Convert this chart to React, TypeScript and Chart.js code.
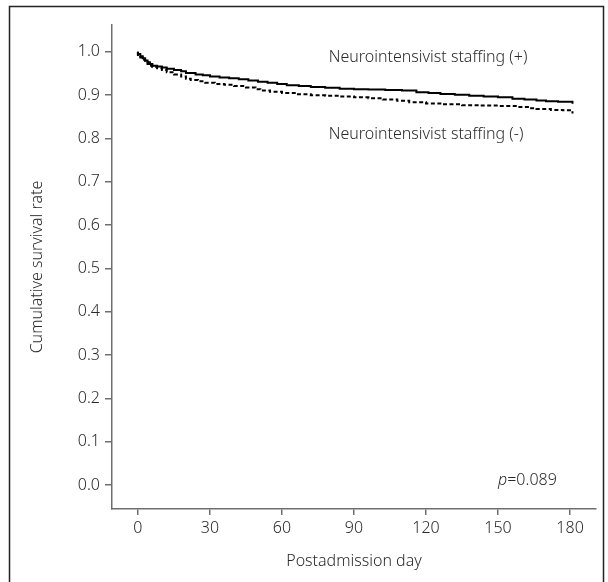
import React, { useEffect, useRef } from "react";
import { Chart, registerables } from "chart.js";

Chart.register(...registerables);

// Kaplan–Meier estimates
const plusDays = [0, 1, 2, 3, 4, 5, 6, 8, 10, 12, 15, 18, 20, 24, 27, 30, 34, 38, 42, 46, 50, 54, 58, 62, 67, 72, 78, 84, 90, 96, 103, 110, 116, 121, 126, 132, 138, 144, 150, 156, 161, 166, 170, 175, 181, 181];
const plusSurv = [1.0, 0.995, 0.99, 0.985, 0.98, 0.976, 0.972, 0.968, 0.966, 0.964, 0.961, 0.958, 0.955, 0.951, 0.948, 0.946, 0.943, 0.941, 0.939, 0.937, 0.934, 0.931, 0.929, 0.926, 0.923, 0.921, 0.919, 0.917, 0.915, 0.914, 0.913, 0.912, 0.911, 0.907, 0.905, 0.903, 0.901, 0.899, 0.897, 0.895, 0.892, 0.89, 0.888, 0.886, 0.885, 0.88];

const minusDays = [0, 1, 2, 3, 4, 5, 6, 8, 10, 12, 15, 18, 20, 22, 25, 28, 32, 36, 40, 45, 49, 51, 55, 60, 66, 72, 78, 84, 90, 96, 102, 108, 113, 120, 127, 135, 142, 150, 158, 163, 166, 172, 177, 181, 181];
const minusSurv = [1.0, 0.993, 0.987, 0.982, 0.977, 0.972, 0.968, 0.965, 0.962, 0.958, 0.953, 0.948, 0.943, 0.938, 0.935, 0.932, 0.929, 0.926, 0.924, 0.921, 0.918, 0.914, 0.911, 0.908, 0.905, 0.902, 0.9, 0.899, 0.897, 0.895, 0.893, 0.89, 0.887, 0.884, 0.881, 0.879, 0.877, 0.876, 0.875, 0.873, 0.87, 0.868, 0.866, 0.865, 0.858];

const xTicks = [0, 30, 60, 90, 120, 150, 180];
const yTicks = [0, 0.1, 0.2, 0.3, 0.4, 0.5, 0.6, 0.7, 0.8, 0.9, 1.0];

const labelPlus = "Neurointensivist staffing (+)";
const labelMinus = "Neurointensivist staffing (-)";
const pValue = "0.089";

const FONT = "'Noto Sans', sans-serif";
const SIZE = 16;
const TEXT = "#2a2a2a";
const AXIS = "#6e6e6e";

const annotations = {
  id: "annotations",
  afterDatasetsDraw(chart: any) {
    const { ctx, scales } = chart;
    const xs = scales.x;
    const ys = scales.y;
    ctx.save();
    ctx.fillStyle = TEXT;
    ctx.font = `300 ${SIZE}px ${FONT}`;
    ctx.textBaseline = "middle";
    ctx.textAlign = "left";
    ctx.fillText(labelPlus, xs.getPixelForValue(79.5), ys.getPixelForValue(0.986));
    ctx.fillText(labelMinus, xs.getPixelForValue(79.5), ys.getPixelForValue(0.81));
    const px = xs.getPixelForValue(150);
    const py = ys.getPixelForValue(0.012);
    ctx.font = `italic 300 ${SIZE}px ${FONT}`;
    ctx.fillText("p", px, py);
    const w = ctx.measureText("p").width;
    ctx.font = `300 ${SIZE}px ${FONT}`;
    ctx.fillText("=" + pValue, px + w, py);
    ctx.restore();
  },
};

const frame = {
  id: "frame",
  beforeDraw(chart: any) {
    const { ctx } = chart;
    ctx.save();
    ctx.fillStyle = "#fff";
    ctx.fillRect(0, 0, chart.width, chart.height);
    ctx.strokeStyle = "#222";
    ctx.lineWidth = 1.5;
    ctx.strokeRect(9.5, 6.5, 594, 620);
    ctx.restore();
  },
};

export default function App() {
  const ref = useRef<HTMLCanvasElement>(null);
  useEffect(() => {
    if (!ref.current) return;
    const font = { family: FONT, size: SIZE, weight: "300" as any };
    const chart = new Chart(ref.current, {
      type: "line",
      data: {
        datasets: [
          {
            label: labelPlus,
            data: plusDays.map((d, i) => ({ x: d, y: plusSurv[i] })),
            borderColor: "#000",
            borderWidth: 2,
            pointRadius: 0,
            stepped: "after",
            fill: false,
          },
          {
            label: labelMinus,
            data: minusDays.map((d, i) => ({ x: d, y: minusSurv[i] })),
            borderColor: "#000",
            borderWidth: 2,
            borderDash: [4, 2.5],
            pointRadius: 0,
            stepped: "after",
            fill: false,
          },
        ],
      },
      options: {
        animation: false,
        responsive: false,
        layout: { padding: { left: 0, right: 12, top: 25, bottom: 0 } },
        plugins: { legend: { display: false }, tooltip: { enabled: false } },
        scales: {
          x: {
            type: "linear",
            min: -10.8,
            max: 190.8,
            afterBuildTicks: (s: any) => {
              s.ticks = xTicks.map((v) => ({ value: v }));
            },
            afterFit: (s: any) => {
              s.height = 73;
            },
            grid: { drawOnChartArea: false, drawTicks: true, tickLength: 6, color: AXIS, lineWidth: 1.5 },
            border: { display: true, color: AXIS, width: 1.5 },
            ticks: {
              color: TEXT,
              padding: 4,
              font,
              callback: (v: any) => String(v),
            },
            title: {
              display: true,
              text: "Postadmission day",
              color: TEXT,
              padding: { top: 0, bottom: 11 },
              font,
            },
          },
          y: {
            type: "linear",
            min: -0.055,
            max: 1.062,
            afterBuildTicks: (s: any) => {
              s.ticks = yTicks.map((v) => ({ value: v }));
            },
            afterFit: (s: any) => {
              s.width = 112;
            },
            grid: { drawOnChartArea: false, drawTicks: true, tickLength: 7, color: AXIS, lineWidth: 1.5 },
            border: { display: true, color: AXIS, width: 1.5 },
            ticks: {
              color: TEXT,
              padding: 5,
              font,
              callback: (v: any) => Number(v).toFixed(1),
            },
            title: {
              display: true,
              text: "Cumulative survival rate",
              color: TEXT,
              padding: { top: 28, bottom: 0 },
              font,
            },
          },
        },
      },
      plugins: [frame, annotations],
    });
    return () => chart.destroy();
  }, []);
  return (
    <div style={{ position: "fixed", left: 0, top: 0, width: 608, height: 582 }}>
      <canvas ref={ref} width={608} height={582} />
    </div>
  );
}
